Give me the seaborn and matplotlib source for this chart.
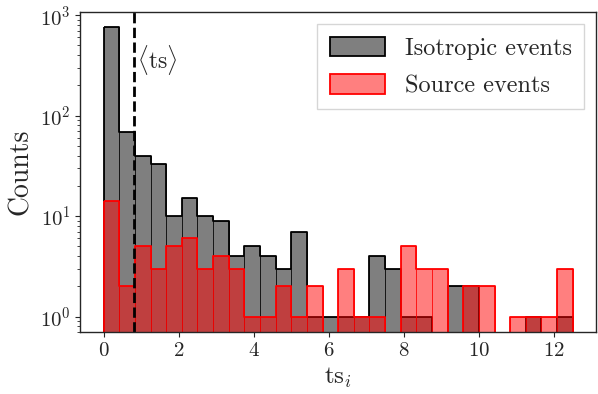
import numpy as np
import pandas as pd
import matplotlib
matplotlib.use("Agg")
import matplotlib.pyplot as plt
from matplotlib.patches import Patch
import seaborn as sns

# ---- data ----
ts_min, ts_max, n_bins = 0.0, 12.5, 30
iso_counts = [760, 68, 40, 33, 10, 15, 10, 9, 4, 5,
              4, 3, 7, 1, 1, 1, 1, 4, 3, 1,
              1, 0, 2, 2, 0, 0, 0, 1, 0, 1]
src_counts = [14, 2, 5, 3, 5, 6, 3, 4, 3, 1,
              1, 2, 1, 2, 0, 3, 1, 1, 0, 5,
              3, 3, 0, 2, 2, 0, 1, 1, 1, 3]
mean_ts = 0.80
labels = ["Isotropic events", "Source events"]
colors = ["black", "red"]

sns.set_style("ticks")
plt.rcParams["font.family"] = "serif"
plt.rcParams["font.serif"] = ["cmr10", "DejaVu Serif"]
plt.rcParams["mathtext.fontset"] = "cm"
plt.rcParams["axes.formatter.use_mathtext"] = True
plt.rcParams["axes.unicode_minus"] = False

bin_edges = np.linspace(ts_min, ts_max, n_bins + 1)
centers = 0.5 * (bin_edges[:-1] + bin_edges[1:])
frames = [pd.DataFrame({"ts": centers, "n": c}) for c in (iso_counts, src_counts)]

fig, ax = plt.subplots(figsize=(5.98, 3.94), dpi=100)
fig.subplots_adjust(left=0.134, right=0.997, top=0.969, bottom=0.157)

for df, col in zip(frames, colors):
    # filled bars with thin edges
    n_before = len(ax.patches)
    sns.histplot(data=df, x="ts", weights="n", bins=n_bins, binrange=(ts_min, ts_max),
                 element="bars", ax=ax, color=col, alpha=0.5)
    for p in ax.patches[n_before:]:
        p.set_alpha(None)
        p.set_facecolor(matplotlib.colors.to_rgba(col, 0.5))
        p.set_edgecolor(matplotlib.colors.to_rgba(col, 0.6))
        p.set_linewidth(0.7)
    # outline
    n_coll = len(ax.collections)
    sns.histplot(data=df, x="ts", weights="n", bins=n_bins, binrange=(ts_min, ts_max),
                 element="step", fill=True, ax=ax, color=col)
    for c in ax.collections[n_coll:]:
        c.set_facecolor("none")
        c.set_edgecolor(col)
        c.set_linewidth(1.3)
        c.set_alpha(None)

ax.set_yscale("log")
ax.set_ylim(0.7, 1070)
ax.set_xlim(-0.625, 13.125)

ax.axvline(mean_ts, color="black", linestyle="--", linewidth=2)
ax.text(mean_ts + 0.1, 355, r"$\langle\mathrm{ts}\rangle$", fontsize=17,
        ha="left", va="center")

ax.set_xlabel(r"$\mathrm{ts}_i$", fontsize=18)
ax.set_ylabel("Counts", fontsize=20)
ax.set_xticks([0, 2, 4, 6, 8, 10, 12])
ax.tick_params(axis="both", labelsize=15)

for s in ["top", "right", "left", "bottom"]:
    ax.spines[s].set_visible(True)
    ax.spines[s].set_linewidth(1.0)

handles = [Patch(facecolor=matplotlib.colors.to_rgba(c, 0.5), edgecolor=c, linewidth=1.3)
           for c in colors]
ax.legend(handles, labels, loc="upper right", fontsize=17.5, frameon=True, fancybox=False,
          edgecolor="#cccccc", borderpad=0.5, handlelength=2.3, handleheight=0.85,
          labelspacing=0.6, handletextpad=0.8, borderaxespad=0.5)

fig.savefig("out.png", dpi=100)
